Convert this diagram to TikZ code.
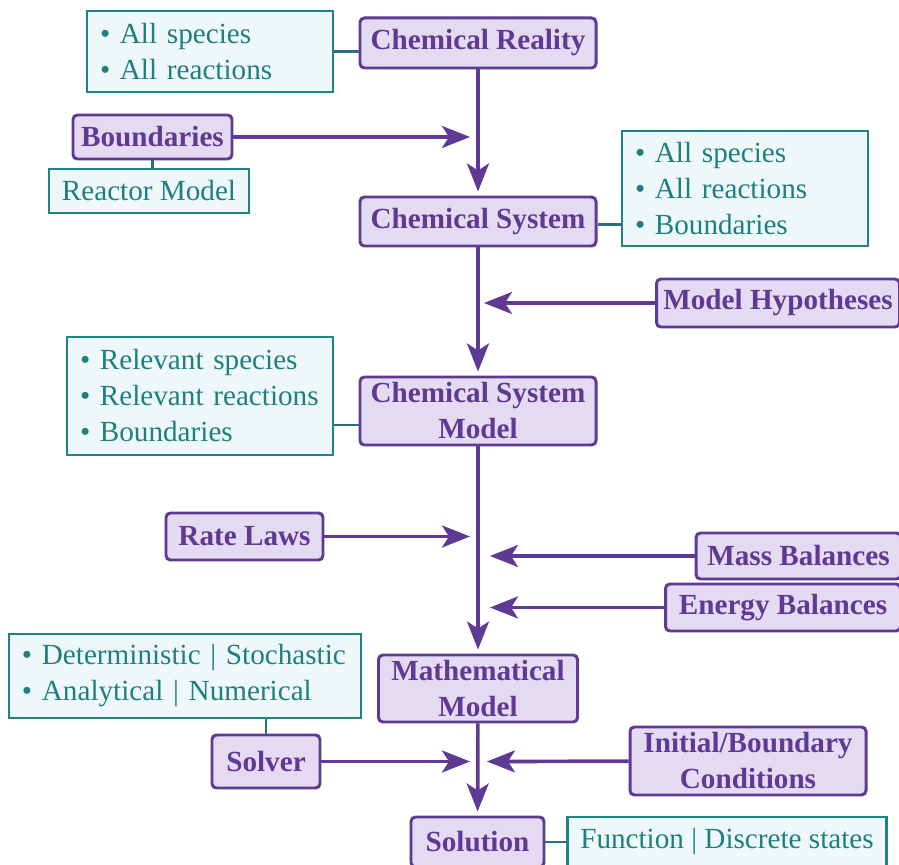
\documentclass[tikz,border=0pt]{standalone}
\usepackage{fontspec}
\setmainfont{Liberation Serif}
\newfontfamily\diagfont{Liberation Serif}
\usetikzlibrary{arrows.meta}
\definecolor{vio}{HTML}{5E3A94}
\definecolor{vioback}{HTML}{E4DAF1}
\definecolor{tealline}{HTML}{1F8487}
\definecolor{tealback}{HTML}{EEF7F9}
\definecolor{tealtext}{HTML}{1E7F80}
\definecolor{tiecol}{HTML}{2D6F82}
\tikzstyle{stage} = [draw=vio, fill=vioback, line width=1.7pt, rounded corners=2.5pt, text=vio, align=center, inner sep=0pt, font={\diagfont\fontsize{16.6}{20.5}\selectfont\bfseries}]
\tikzstyle{note} = [draw=tealline, fill=tealback, line width=1.4pt, text=tealtext, inner ysep=0pt, inner xsep=0.26cm, font={\diagfont\fontsize{16.6}{20.5}\selectfont}]
\tikzstyle{notelist} = [note, align=left]
\tikzstyle{flow} = [draw=vio, line width=2.1pt, -{Stealth[length=0.56cm, width=0.44cm, inset=0.14cm]}]
\tikzstyle{noteline} = [draw=tiecol, line width=1.2pt]

\begin{document}
\begin{tikzpicture}
    \useasboundingbox (0,0) rectangle (17.98,-17.3);
    % main chain
    \node[stage, minimum width=4.72cm, minimum height=1.0cm](real) at (9.56,-0.86){Chemical Reality};
    \node[stage, minimum width=4.72cm, minimum height=0.98cm](sys) at (9.56,-4.43){Chemical System};
    \node[stage, minimum width=4.72cm, minimum height=1.36cm](csm) at (9.56,-8.22){Chemical System\\Model};
    \node[stage, minimum width=3.98cm, minimum height=1.34cm](math) at (9.56,-13.77){Mathematical\\Model};
    \node[stage, minimum width=2.66cm, minimum height=1.0cm](sol) at (9.55,-16.84){Solution};
    % inputs
    \node[stage, minimum width=3.18cm, minimum height=0.88cm](bound) at (3.05,-2.74){Boundaries};
    \node[stage, minimum width=4.86cm, minimum height=0.96cm](hyp) at (15.56,-6.06){Model Hypotheses};
    \node[stage, minimum width=3.14cm, minimum height=0.94cm](rate) at (4.89,-10.73){Rate Laws};
    \node[stage, minimum width=4.1cm, minimum height=0.92cm](mass) at (15.97,-11.12){Mass Balances};
    \node[stage, minimum width=4.7cm, minimum height=0.94cm](energy) at (15.66,-12.15){Energy Balances};
    \node[stage, minimum width=2.16cm, minimum height=1.06cm](solver) at (5.32,-15.23){Solver};
    \node[stage, minimum width=4.72cm, minimum height=1.36cm](cond) at (14.96,-15.22){Initial/Boundary\\Conditions};
    % notes
    \node[notelist, text width=4.4cm, minimum height=1.62cm](info1) at (4.2,-1.03){\textbullet\ All species\\\textbullet\ All reactions};
    \node[note, minimum width=3.88cm, minimum height=0.88cm](reactor) at (2.98,-3.82){Reactor Model};
    \node[notelist, text width=4.4cm, minimum height=2.3cm](info2) at (14.9,-3.77){\textbullet\ All species\\\textbullet\ All reactions\\\textbullet\ Boundaries};
    \node[notelist, text width=4.8cm, minimum height=2.36cm](info3) at (4.0,-7.92){\textbullet\ Relevant species\\\textbullet\ Relevant reactions\\\textbullet\ Boundaries};
    \node[notelist, text width=6.52cm, minimum height=1.68cm](info4) at (3.7,-13.52){\textbullet\ Deterministic | Stochastic\\\textbullet\ Analytical | Numerical};
    \node[note, minimum width=6.36cm, minimum height=1.0cm](func) at (14.54,-16.84){Function | Discrete states};
    % arrow ends on the main line
    \coordinate(boundtip) at (9.4,-2.74);
    \coordinate(hyptip) at (9.68,-6.06);
    \coordinate(ratetip) at (9.4,-10.73);
    \coordinate(masstip) at (9.8,-11.12);
    \coordinate(energytip) at (9.8,-12.15);
    \coordinate(solvertip) at (9.4,-15.23);
    \coordinate(condtip) at (9.74,-15.23);
    % note links
    \draw[noteline](info1.east)--(info1.east -| real.west);
    \draw[noteline](bound.south)--(bound.south |- reactor.north);
    \draw[noteline]([yshift=-0.06cm]sys.east)--([yshift=-0.06cm]sys.east -| info2.west);
    \draw[noteline]([yshift=-0.28cm]csm.west)--([yshift=-0.28cm]csm.west -| info3.east);
    \draw[noteline](solver.north |- info4.south)--(solver.north);
    \draw[noteline](sol.east)--(func.west);
    % flow
    \draw[flow, shorten >=0.08cm](real)--(sys);
    \draw[flow, shorten >=0.08cm](sys)--(csm);
    \draw[flow, shorten >=0.08cm](csm)--(math);
    \draw[flow, shorten >=0.08cm](math)--(sol);
    \draw[flow](bound)--(boundtip);
    \draw[flow](hyp)--(hyptip);
    \draw[flow](rate)--(ratetip);
    \draw[flow](mass)--(masstip);
    \draw[flow](energy)--(energytip);
    \draw[flow](solver)--(solvertip);
    \draw[flow](cond)--(condtip);
  \end{tikzpicture}
\end{document}
